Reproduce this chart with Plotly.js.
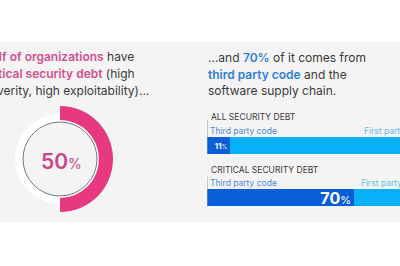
<!DOCTYPE html>
<html><head><meta charset="utf-8">
<script src="https://cdn.plot.ly/plotly-3.0.1.min.js"></script>
<style>html,body{margin:0;padding:0;background:#fff}#chart{width:400px;height:266px}</style>
</head><body><div id="chart"></div>
<script>
// Data
const orgLabels = ['Critical security debt', 'Other'];
const orgShare = [50, 50];
const categories = ['ALL SECURITY DEBT', 'CRITICAL SECURITY DEBT'];
const thirdParty = [11, 70];
const firstParty = [89, 30];
const segmentNames = ['Third party code', 'First party code'];

const W = 400, H = 266;
const px = v => v / W, py = v => (H - v) / H;
const font = 'Inter, "Noto Sans", sans-serif';
const DARK = '#3a3a3a', PINK = '#d2508e', BLUE = '#2f7fd6';

const traces = [
  { type: 'pie', values: [100], labels: ['track'], marker: { colors: ['#ffffff'] },
    hole: 0.82, sort: false, textinfo: 'none', hoverinfo: 'skip', showlegend: false,
    domain: { x: [px(15), px(105)], y: [py(204), py(114)] } },
  { type: 'pie', values: orgShare, labels: orgLabels,
    marker: { colors: ['#e6397f', 'rgba(0,0,0,0)'] },
    hole: 0.735, sort: false, direction: 'clockwise', rotation: 0,
    textinfo: 'none', hoverinfo: 'skip', showlegend: false,
    domain: { x: [px(7), px(113)], y: [py(212), py(106)] } },
  { type: 'bar', orientation: 'h', y: categories, x: thirdParty, name: segmentNames[0],
    marker: { color: '#0a5fd8' }, width: 0.33,
    texttemplate: ['<b>%{x}</b><span style="font-size:5.5px">%</span>',
                   '<b>%{x}</b><span style="font-size:11px">%</span>'],
    textposition: 'inside', insidetextanchor: 'end', constraintext: 'none',
    textfont: { color: '#ffffff', size: [8, 16], family: font },
    hoverinfo: 'skip', showlegend: false },
  { type: 'bar', orientation: 'h', y: categories, x: firstParty, name: segmentNames[1],
    marker: { color: '#06b1f7' }, width: 0.33, textinfo: 'none',
    hoverinfo: 'skip', showlegend: false }
];

const ann = [];
function line(x, y, text, size) {
  ann.push({ xref: 'paper', yref: 'paper', x: px(x), y: py(y), xanchor: 'left', yanchor: 'middle',
    text: text, showarrow: false, font: { family: font, size: size || 12, color: DARK } });
}
const hp = t => `<span style="font-weight:600;color:${PINK}">${t}</span>`;
const hb = t => `<span style="font-weight:600;color:${BLUE}">${t}</span>`;
line(-19, 56, `${hp('Half of organizations')} have`);
line(-19, 73, `${hp('critical security debt')} (high`);
line(-18, 90, 'severity, high exploitability)...');
line(206, 57, `...and ${hb('70%')} of it comes from`);
line(206, 74, `${hb('third party code')} and the`);
line(206, 91, 'software supply chain.');

ann.push({ xref: 'paper', yref: 'paper', x: px(61), y: py(161), xanchor: 'center', yanchor: 'middle',
  text: '<span style="font-weight:600">50</span><span style="font-size:14px">%</span>', showarrow: false,
  font: { family: font, size: 21, color: '#c8478a' } });

categories.forEach((c, i) => {
  ann.push({ xref: 'x', yref: 'y', x: 0, y: c, xanchor: 'left', yanchor: 'middle', xshift: 2, yshift: 29 - (i ? 1 : 0),
    text: c, showarrow: false, font: { family: font, size: 8.5, color: DARK } });
  ann.push({ xref: 'x', yref: 'y', x: 0, y: c, xanchor: 'left', yanchor: 'middle', xshift: 1, yshift: 15,
    text: segmentNames[0], showarrow: false, font: { family: font, size: 8.5, color: '#4a8ad6' } });
  ann.push({ xref: 'x', yref: 'y', x: i ? 72.5 : 74, y: c, xanchor: 'left', yanchor: 'middle', yshift: 15,
    text: segmentNames[1], showarrow: false, font: { family: font, size: 8.5, color: '#62bde8' } });
});

const shapes = [
  { type: 'rect', xref: 'paper', yref: 'paper', x0: 0, x1: 1, y0: py(222), y1: py(42),
    fillcolor: '#f4f4f4', line: { width: 0 }, layer: 'below' },
  { type: 'circle', xref: 'paper', yref: 'paper', x0: px(23), x1: px(97), y0: py(196), y1: py(122),
    line: { color: '#777', width: 1 }, fillcolor: 'rgba(0,0,0,0)', layer: 'above' },
  { type: 'line', xref: 'x', yref: 'y', x0: 0, x1: 0, y0: -0.63, y1: 0.17, line: { color: '#999', width: 1 } },
  { type: 'line', xref: 'x', yref: 'y', x0: 0, x1: 0, y0: 0.6, y1: 1.17, line: { color: '#999', width: 1 } }
];

const layout = {
  width: W, height: H, margin: { l: 0, r: 0, t: 0, b: 0 },
  paper_bgcolor: '#ffffff', plot_bgcolor: 'rgba(0,0,0,0)',
  barmode: 'stack', bargap: 0,
  xaxis: { domain: [px(207), 1], range: [0, 100 * (W - 207) / 210], visible: false, fixedrange: true },
  yaxis: { domain: [py(223.5), py(119.5)], range: [1.5, -0.5], type: 'category', visible: false, fixedrange: true },
  annotations: ann, shapes: shapes, font: { family: font }
};

Plotly.newPlot('chart', traces, layout, { staticPlot: true, displayModeBar: false });
</script></body></html>
